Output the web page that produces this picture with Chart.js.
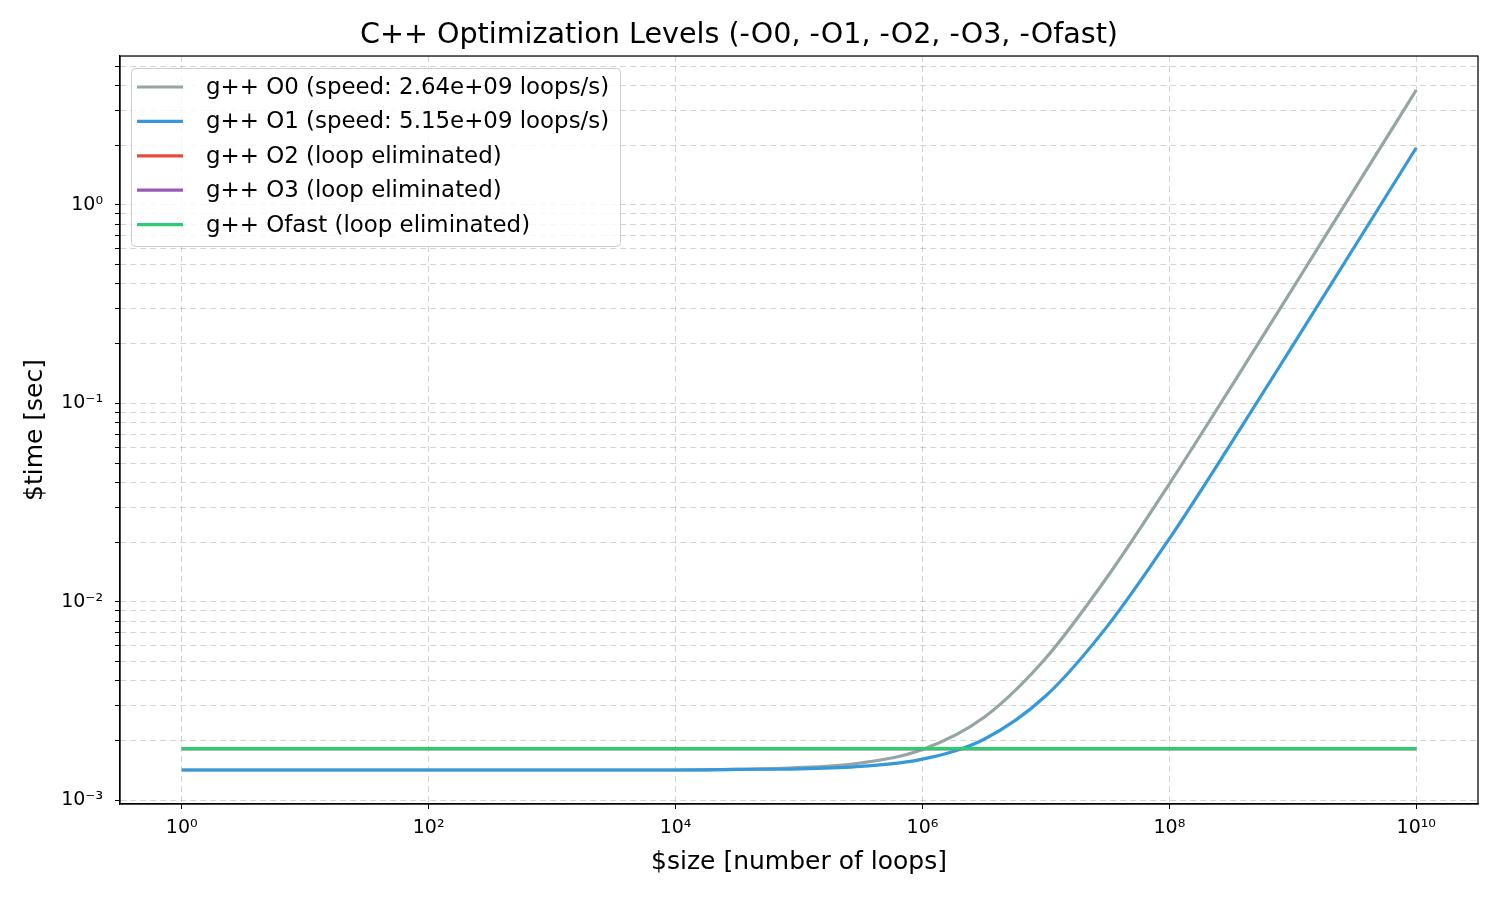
<!DOCTYPE html>
<html>
<head>
<meta charset="utf-8">
<script src="https://cdn.jsdelivr.net/npm/chart.js@4.4.0/dist/chart.umd.min.js"></script>
<style>
html, body { margin: 0; padding: 0; background: #fff; }
</style>
</head>
<body>
<canvas id="graph" width="1500" height="900"></canvas>
<script>
const sizes = [1, 3.16, 10, 31.6, 100, 316, 1e3, 3162, 1e4, 31623, 1e5, 316228,
               1e6, 3.16e6, 1e7, 3.16e7, 1e8, 3.16e8, 1e9, 3.16e9, 1e10];
const timesO0 = [0.00142, 0.00142, 0.00142, 0.00142, 0.00142, 0.00142, 0.00142, 0.00142, 0.00142, 0.00143, 0.00146, 0.00154,
                 0.00180, 0.00262, 0.00521, 0.0134, 0.0393, 0.121, 0.380, 1.20, 3.79];
const timesO1 = [0.00142, 0.00142, 0.00142, 0.00142, 0.00142, 0.00142, 0.00142, 0.00142, 0.00142, 0.00143, 0.00144, 0.00148,
                 0.00161, 0.00203, 0.00336, 0.00756, 0.0208, 0.0628, 0.196, 0.615, 1.94];
const timesO2 = [0.00182, 0.00182, 0.00182, 0.00182, 0.00182, 0.00182, 0.00182, 0.00182, 0.00182, 0.00182, 0.00182, 0.00182,
                 0.00182, 0.00182, 0.00182, 0.00182, 0.00182, 0.00182, 0.00182, 0.00182, 0.00182];
const timesO3 = [0.00182, 0.00182, 0.00182, 0.00182, 0.00182, 0.00182, 0.00182, 0.00182, 0.00182, 0.00182, 0.00182, 0.00182,
                 0.00182, 0.00182, 0.00182, 0.00182, 0.00182, 0.00182, 0.00182, 0.00182, 0.00182];
const timesOfast = [0.00182, 0.00182, 0.00182, 0.00182, 0.00182, 0.00182, 0.00182, 0.00182, 0.00182, 0.00182, 0.00182, 0.00182,
                    0.00182, 0.00182, 0.00182, 0.00182, 0.00182, 0.00182, 0.00182, 0.00182, 0.00182];

const seriesNames = ['g++ O0 (speed: 2.64e+09 loops/s)', 'g++ O1 (speed: 5.15e+09 loops/s)',
                     'g++ O2 (loop eliminated)', 'g++ O3 (loop eliminated)', 'g++ Ofast (loop eliminated)'];
const seriesColors = ['#95a5a6', '#3498db', '#e74c3c', '#9b59b6', '#2ecc71'];

const xTicks = [1, 1e2, 1e4, 1e6, 1e8, 1e10];
const xTickLabels = ['10\u2070', '10\u00b2', '10\u2074', '10\u2076', '10\u2078', '10\u00b9\u2070'];
const yTicks = [1e-3, 1e-2, 1e-1, 1];
const yTickLabels = ['10\u207b\u00b3', '10\u207b\u00b2', '10\u207b\u00b9', '10\u2070'];

const FONT = 'DejaVu Sans';
Chart.defaults.font.family = FONT;
Chart.defaults.color = '#000';

const xMin = Math.pow(10, -0.5), xMax = Math.pow(10, 10.5);
const yMin = Math.pow(10, -3.019), yMax = Math.pow(10, 0.75);

// every 1..9 x decade for the y grid (minor lines too)
let yGrid = [];
for (let e = -3; e <= 0; e++) {
	for (let m = 1; m <= 9; m++) {
		let v = m * Math.pow(10, e);
		if (v >= yMin && v <= yMax) yGrid.push(v);
	}
}

function findLabel(v, vals, labels) {
	for (let i = 0; i < vals.length; i++) {
		if (Math.abs(v / vals[i] - 1) < 1e-6) return labels[i];
	}
	return '';
}

const allTimes = [timesO0, timesO1, timesO2, timesO3, timesOfast];
const datasets = allTimes.map((t, k) => ({
	label: seriesNames[k],
	data: sizes.map((s, i) => ({ x: s, y: t[i] })),
	borderColor: seriesColors[k],
	backgroundColor: seriesColors[k],
	borderWidth: 3.2,
	pointRadius: 0,
	fill: false,
	cubicInterpolationMode: 'monotone',
	order: 4 - k
}));

// frame round the plot + matplotlib style legend in the upper left
const framePlugin = {
	id: 'frame',
	afterDatasetsDraw(chart) {
		const a = chart.chartArea, ctx = chart.ctx;
		ctx.save();
		ctx.strokeStyle = '#000';
		ctx.lineWidth = 1.25;
		ctx.strokeRect(a.left, a.top, a.right - a.left, a.bottom - a.top);

		// legend
		const bx = 131, by = 68, bw = 489, bh = 178;
		ctx.beginPath();
		ctx.roundRect(bx + 0.5, by + 0.5, bw, bh, 4);
		ctx.fillStyle = 'rgba(255,255,255,0.8)';
		ctx.fill();
		ctx.strokeStyle = '#cccccc';
		ctx.lineWidth = 1;
		ctx.stroke();
		ctx.font = '22.9px "' + FONT + '"';
		ctx.textBaseline = 'middle';
		ctx.textAlign = 'left';
		for (let i = 0; i < seriesNames.length; i++) {
			let y = 87 + i * 34.4;
			ctx.beginPath();
			ctx.strokeStyle = seriesColors[i];
			ctx.lineWidth = 3.2;
			ctx.moveTo(137, y);
			ctx.lineTo(183, y);
			ctx.stroke();
			ctx.fillStyle = '#000';
			ctx.fillText(seriesNames[i], 206, y + 1);
		}
		ctx.restore();
	}
};

const ctx = document.getElementById('graph');

new Chart(ctx, {
	type: 'line',
	data: { datasets: datasets },
	plugins: [framePlugin],
	options: {
		responsive: false,
		animation: false,
		devicePixelRatio: 1,
		layout: { padding: { left: 0, right: 22, top: 0, bottom: 0 } },
		plugins: {
			legend: { display: false },
			tooltip: { enabled: false },
			title: {
				display: true,
				text: 'C++ Optimization Levels (-O0, -O1, -O2, -O3, -Ofast)',
				font: { size: 28.6, weight: 'normal' },
				color: '#000',
				padding: { top: 18, bottom: 3.7 }
			}
		},
		scales: {
			x: {
				type: 'logarithmic',
				min: xMin,
				max: xMax,
				bounds: 'data',
				afterBuildTicks: s => { s.ticks = xTicks.map(v => ({ value: v })) },
				afterFit: s => { s.height = 96 },
				ticks: {
					autoSkip: false,
					maxRotation: 0,
					font: { size: 19 },
					color: '#000',
					padding: 8,
					callback: v => findLabel(v, xTicks, xTickLabels)
				},
				grid: { color: 'rgba(0,0,0,0.17)', tickColor: '#000', tickLength: 5, lineWidth: 1 },
				border: { display: true, color: '#000', width: 1.25, dash: [6, 4] },
				title: {
					display: true,
					text: '$size [number of loops]',
					font: { size: 25 },
					color: '#000',
					padding: { top: 2, bottom: 23 }
				}
			},
			y: {
				type: 'logarithmic',
				min: yMin,
				max: yMax,
				bounds: 'data',
				afterBuildTicks: s => { s.ticks = yGrid.map(v => ({ value: v })) },
				afterFit: s => { s.width = 120 },
				ticks: {
					autoSkip: false,
					font: { size: 19 },
					color: '#000',
					padding: 12,
					callback: v => findLabel(v, yTicks, yTickLabels)
				},
				grid: { color: 'rgba(0,0,0,0.17)', tickColor: '#000', tickLength: 5, lineWidth: 1 },
				border: { display: true, color: '#000', width: 1.25, dash: [6, 4] },
				title: {
					display: true,
					text: '$time [sec]',
					font: { size: 25 },
					color: '#000',
					padding: { top: 20, bottom: 0 }
				}
			}
		}
	}
});
</script>
</body>
</html>
